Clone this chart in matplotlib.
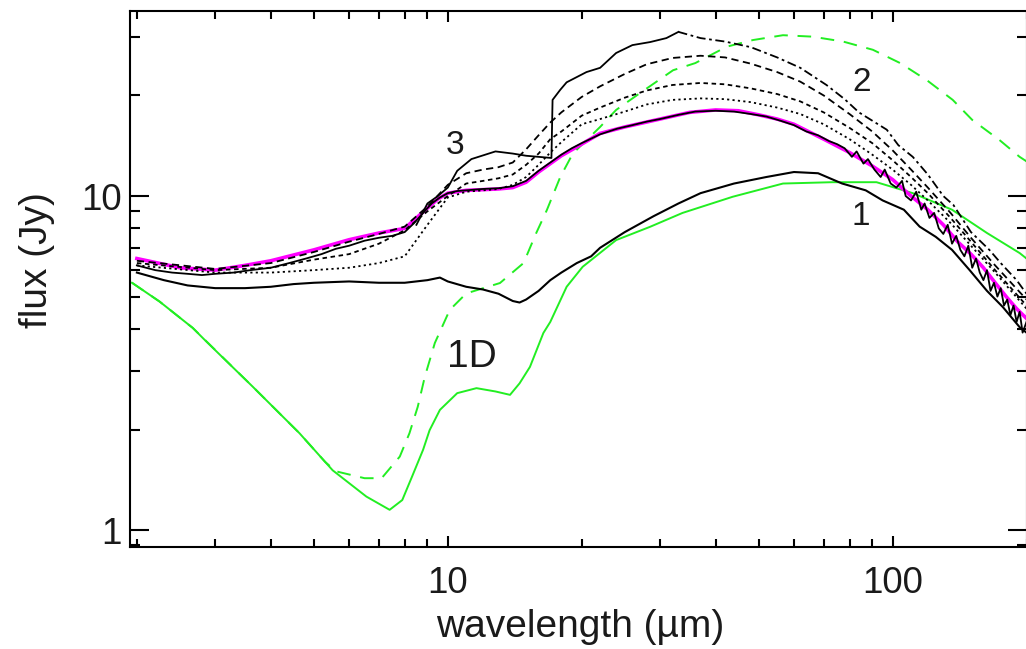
import matplotlib
matplotlib.use("Agg")
import matplotlib.pyplot as plt
from matplotlib.ticker import LogLocator, NullFormatter, FixedLocator, FixedFormatter

plt.rcParams["font.family"] = ["Liberation Sans", "DejaVu Sans"]

# observed spectrum (magenta)
obs_wl = [2, 2.5, 3, 3.5, 4, 5, 6, 7, 8, 8.5, 9, 9.5, 10, 11, 12, 13, 14, 15, 16, 17, 18,
          20, 22, 25, 30, 35, 40, 45, 50, 55, 60, 70, 80, 90, 100, 110, 120, 130, 140,
          150, 160, 170, 180, 190, 200]
obs_flux = [6.5, 6.1, 6.0, 6.2, 6.4, 6.9, 7.4, 7.75, 8.0, 8.6, 9.2, 9.8, 10.2, 10.4, 10.45,
            10.5, 10.6, 11.0, 11.8, 12.5, 13.2, 14.3, 15.4, 16.1, 17.0, 17.8, 18.1, 18.0,
            17.5, 17.0, 16.4, 14.8, 13.5, 12.3, 11.2, 10.0, 9.1, 8.2, 7.3, 6.7, 6.1, 5.5,
            5.0, 4.6, 4.3]

# second observed spectrum (black, noisy at long wavelengths)
spec_wl = [2, 2.2, 2.4, 2.6, 2.8, 3.0, 3.3, 3.6, 4.0, 4.4, 4.8, 5.2, 5.6, 6.0, 6.5, 7.0,
           7.5, 8.0, 8.4, 8.8, 9.2, 9.6, 10, 10.5, 11, 12, 13, 14, 15, 16, 17, 18, 19, 20,
           22, 24, 26, 28, 30, 33, 36, 40, 44, 48, 52, 56, 60, 64, 68, 72, 75, 78, 81, 83,
           86, 88, 91, 94, 96, 99, 102, 105, 107, 110, 113, 116, 118, 121, 124, 127, 130,
           133, 136, 139, 142, 145, 148, 151, 154, 157, 160, 163, 166, 169, 172, 175, 178,
           181, 184, 187, 190, 193, 196, 200]
spec_flux = [6.2, 6.0, 5.9, 5.85, 5.8, 5.85, 5.9, 6.0, 6.1, 6.3, 6.5, 6.7, 6.95, 7.1, 7.35,
             7.5, 7.6, 7.8, 8.3, 8.9, 9.5, 9.9, 10.2, 10.35, 10.4, 10.5, 10.55, 10.7, 11.1,
             11.9, 12.6, 13.3, 13.9, 14.4, 15.3, 15.9, 16.3, 16.7, 17.0, 17.5, 17.9, 18.0,
             17.9, 17.6, 17.3, 16.8, 16.3, 15.6, 15.2, 14.6, 14.3, 13.9, 13.1, 13.6, 12.5,
             12.9, 12.0, 11.4, 12.0, 10.9, 10.6, 11.1, 10.0, 9.7, 10.3, 9.1, 9.5, 8.6, 8.9,
             8.0, 7.7, 8.2, 7.2, 7.6, 6.9, 6.6, 7.1, 6.1, 6.5, 5.9, 5.6, 6.0, 5.2, 5.5, 5.0,
             5.3, 4.7, 4.9, 4.4, 4.7, 4.2, 4.5, 3.9, 4.2]

# model 1 (black solid)
m1_wl = [2, 2.3, 2.6, 3, 3.5, 4, 4.5, 5, 6, 7, 8, 9, 9.6, 10, 11, 12, 13, 14, 14.5, 15, 16,
         17, 18, 19.5, 21, 22, 25, 29, 33, 37, 44, 52, 60, 68, 77, 87, 95, 106, 115, 125,
         136, 149, 163, 177, 193, 200]
m1_flux = [5.9, 5.6, 5.4, 5.3, 5.3, 5.35, 5.45, 5.5, 5.55, 5.5, 5.5, 5.6, 5.7, 5.55, 5.35,
           5.25, 5.1, 4.85, 4.8, 4.9, 5.2, 5.6, 5.9, 6.3, 6.6, 7.0, 7.8, 8.7, 9.5, 10.2,
           10.9, 11.4, 11.8, 11.7, 10.9, 10.4, 9.7, 9.1, 8.1, 7.55, 6.9, 6.0, 5.2, 4.65,
           4.05, 3.9]

# model 2: short-wavelength part with the 17 um jump (solid) and its long tail (dash-dot)
m2a_wl = [8.5, 9, 9.5, 10, 10.5, 11.3, 12.8, 14, 15, 16, 17.1, 17.2, 17.9, 18.5, 20.5, 22,
          23.9, 26, 28.5, 31, 33]
m2a_flux = [8.2, 9.5, 10.0, 10.6, 11.9, 12.9, 13.6, 13.4, 13.2, 13.1, 13.0, 19.4, 20.8, 21.9,
            23.5, 24.2, 26.8, 28.3, 28.9, 29.7, 31.0]
m2b_wl = [33, 37, 42, 48, 55, 62, 71, 78, 84, 97, 103, 111, 120, 130, 137, 150, 165, 175,
          190, 200]
m2b_flux = [31.0, 29.7, 29.0, 27.9, 26.0, 24.2, 21.5, 19.5, 17.8, 15.8, 14.2, 13.1, 11.6,
            10.0, 9.4, 7.8, 6.9, 6.3, 5.6, 5.1]

# model 3 family (black dashed / dotted)
m3_wl = [2, 3, 4, 5, 6, 7, 8, 9, 10, 11, 12, 13, 14, 15, 16, 17, 18, 20, 22, 25, 28, 32, 37,
         42, 48, 55, 62, 70, 80, 90, 100, 110, 120, 135, 150, 170, 200]
m3b_flux = [6.4, 6.05, 6.3, 6.8, 7.3, 7.7, 8.1, 9.3, 10.8, 11.7, 12.0, 12.2, 12.6, 13.8,
            15.2, 16.6, 17.8, 19.8, 21.3, 23.2, 24.8, 25.9, 26.3, 26.0, 24.9, 23.5, 22.0,
            20.0, 17.6, 15.6, 13.7, 12.0, 10.6, 8.9, 7.5, 6.2, 4.9]
m3c_flux = [6.3, 6.0, 6.1, 6.45, 6.7, 7.2, 7.9, 9.0, 10.0, 10.9, 11.1, 11.3, 11.6, 12.4,
            13.4, 14.8, 15.6, 17.4, 18.4, 19.7, 20.7, 21.5, 21.8, 21.6, 21.0, 20.2, 19.2,
            17.8, 16.0, 14.4, 12.8, 11.4, 10.2, 8.6, 7.3, 6.0, 4.7]
m3d_flux = [6.2, 5.9, 5.9, 6.0, 6.1, 6.3, 6.6, 8.2, 9.9, 10.3, 10.4, 10.5, 10.8, 11.4, 12.4,
            13.5, 14.5, 16.4, 17.0, 17.9, 18.8, 19.4, 19.6, 19.5, 19.1, 18.4, 17.6, 16.4,
            14.8, 13.3, 12.0, 10.8, 9.7, 8.3, 7.1, 5.9, 4.6]

# green models: 1D (solid) and its dashed variant
g_wl = [1.95, 2.25, 2.67, 2.87, 3.64, 4.64, 5.51, 6.56, 7.4, 7.9, 8.3, 8.8, 9.1, 9.6, 10.5,
        11.6, 12.8, 13.8, 14.5, 15.3, 16.4, 17.0, 18.5, 20.1, 23.9, 28.5, 33.7, 43.7, 56.7,
        73, 92, 111, 136, 163, 193, 200]
g_flux = [5.5, 4.83, 4.03, 3.66, 2.69, 1.95, 1.51, 1.26, 1.15, 1.23, 1.44, 1.74, 1.99, 2.29,
          2.57, 2.66, 2.6, 2.54, 2.75, 3.08, 3.89, 4.2, 5.35, 6.14, 7.38, 8.09, 8.9, 9.95,
          10.9, 11.0, 11.0, 10.2, 9.1, 7.75, 6.75, 6.5]
gd_wl = [1.95, 2.25, 2.67, 3.64, 4.64, 5.3, 5.6, 6.5, 7.1, 7.8, 8.2, 8.56, 8.88, 9.35, 10.1,
         11.0, 13.1, 14.8, 15.8, 16.7, 17.9, 19.1, 22, 23.9, 27, 32.1, 36, 42.4, 48.5, 56.7,
         66, 77.4, 90.3, 104, 119.5, 136.5, 151, 174, 193, 200]
gd_flux = [5.5, 4.83, 4.03, 2.69, 1.95, 1.6, 1.5, 1.43, 1.43, 1.66, 1.95, 2.34, 2.88, 3.63,
           4.56, 5.11, 5.49, 6.3, 7.74, 9.08, 11.4, 13.4, 16.1, 18.1, 20.3, 23.8, 25.0, 28.0,
           29.3, 30.3, 30.0, 29.0, 27.4, 25.0, 22.2, 19.4, 16.9, 14.7, 13.1, 12.7]

# curve labels: (wavelength, flux, text, size)
curve_labels = [(10.4, 14.2, "3", 24), (85.3, 21.9, "2", 24),
                (84.9, 8.7, "1", 24), (11.3, 3.3, "1D", 28)]

GREEN = "#22ee22"
INK = "#1a1a1a"

fig = plt.figure(figsize=(10.26, 6.49), dpi=100)
ax = fig.add_axes([130 / 1026, 102 / 649, 897 / 1026, 536 / 649])

ax.plot(g_wl, g_flux, color=GREEN, lw=1.4)
ax.plot(gd_wl, gd_flux, color=GREEN, lw=1.4, linestyle=(0, (7, 5)))
ax.plot(obs_wl, obs_flux, color="#ff00ff", lw=2.6)
ax.plot(spec_wl, spec_flux, color="black", lw=1.3)
ax.plot(m1_wl, m1_flux, color="black", lw=1.5)
ax.plot(m2a_wl, m2a_flux, color="black", lw=1.3)
ax.plot(m2b_wl, m2b_flux, color="black", lw=1.3, linestyle=(0, (5, 2, 1.5, 2)))
ax.plot(m3_wl, m3b_flux, color="black", lw=1.3, linestyle=(0, (4, 2.5)))
ax.plot(m3_wl, m3c_flux, color="black", lw=1.3, linestyle=(0, (2.5, 2)))
ax.plot(m3_wl, m3d_flux, color="black", lw=1.3, linestyle=(0, (1.2, 1.8)))

for x, y, s, fs in curve_labels:
    ax.text(x, y, s, ha="center", va="center", fontsize=fs, color=INK)

ax.set_xscale("log")
ax.set_yscale("log")
ax.set_xlim(1.93, 200.5)
ax.set_ylim(0.89, 35.8)

ax.xaxis.set_major_locator(FixedLocator([10, 100]))
ax.xaxis.set_major_formatter(FixedFormatter(["10", "100"]))
ax.xaxis.set_minor_locator(LogLocator(base=10, subs=range(2, 10)))
ax.xaxis.set_minor_formatter(NullFormatter())
ax.yaxis.set_major_locator(FixedLocator([1, 10]))
ax.yaxis.set_major_formatter(FixedFormatter(["1", "10"]))
ax.yaxis.set_minor_locator(LogLocator(base=10, subs=range(2, 10)))
ax.yaxis.set_minor_formatter(NullFormatter())

ax.tick_params(which="both", direction="in", top=True, right=True, width=1.5,
               colors="black", labelcolor=INK, labelsize=26.5)
ax.tick_params(axis="x", which="major", length=8, pad=14)
ax.tick_params(axis="x", which="minor", length=5.5)
ax.tick_params(axis="y", which="major", length=14, pad=6)
ax.tick_params(axis="y", which="minor", length=7)
for s in ax.spines.values():
    s.set_linewidth(1.5)

fig.text(580 / 1026, 1 - 627 / 649, "wavelength (µm)", ha="center", va="center",
         fontsize=28, color=INK)
fig.text(37 / 1026, 1 - 260 / 649, "flux (Jy)", ha="center", va="center",
         rotation=90, fontsize=28, color=INK)

fig.savefig("out.png", dpi=100)
